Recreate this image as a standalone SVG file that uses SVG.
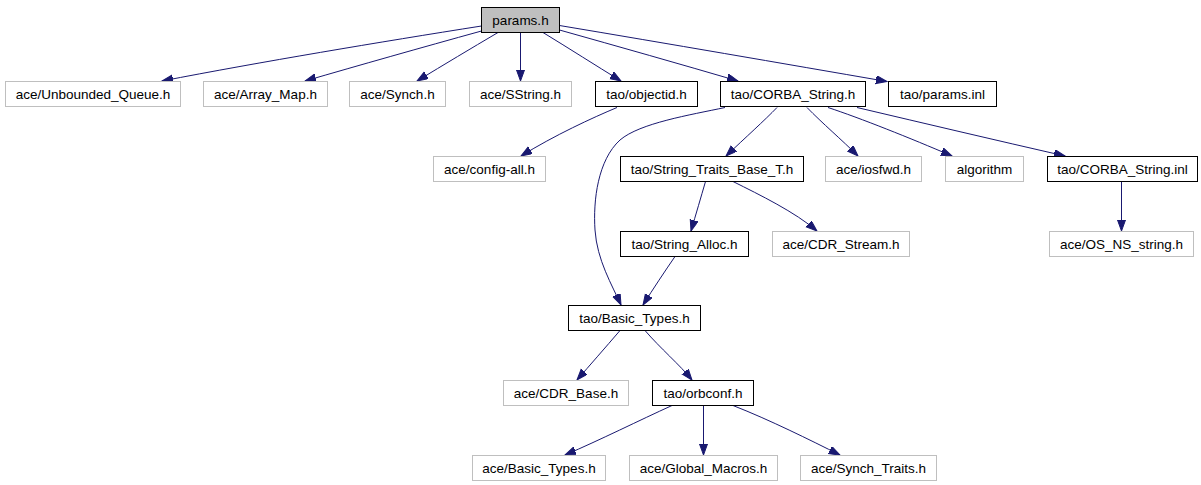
<svg xmlns="http://www.w3.org/2000/svg" width="1201" height="485" viewBox="0 0 1201 485">
<style>
.n rect{fill:#ffffff;stroke:#000000;stroke-width:1}
.g rect{stroke:#bfbfbf}
.r rect{fill:#bfbfbf}
text{font-family:"Liberation Sans",Arial,sans-serif;font-size:13.5px;fill:#000000;text-anchor:middle}
#edges path{fill:none;stroke:#191970;stroke-width:1;marker-end:url(#ah)}
</style>
<defs>
<marker id="ah" markerUnits="userSpaceOnUse" markerWidth="12" markerHeight="9" refX="11" refY="4" orient="auto">
<path d="M0,0 L11,4 L0,8 z" fill="#191970" stroke="#191970" stroke-width="1"/>
</marker>
</defs>
<rect x="0" y="0" width="1201" height="485" fill="#ffffff"/>
<g id="edges">
<path d="M481.5,26 C380,42 260,62 162,81"/>
<path d="M481.5,31 C420,48 360,65 305,81"/>
<path d="M498,32.5 C470,49 445,64 417,81"/>
<path d="M520.5,32.5 L520.5,81"/>
<path d="M543,32.5 C570,49 595,65 621,81"/>
<path d="M559.5,30 C620,47 680,64 738,81"/>
<path d="M559.5,25.5 C670,44 780,63 887,81.5"/>
<path d="M617,107.5 C592,118 555,135 521,156"/>
<path d="M725,107.5 C690,115 640,123 620,140 C598,160 593,200 595,230 C597,260 612,285 621,305"/>
<path d="M777,107.5 C765,120 745,138 726,156"/>
<path d="M807,107.5 C822,123 842,140 858,156"/>
<path d="M828,107.5 C860,118 910,138 952,156"/>
<path d="M857,107.5 C927,124 995,140 1065,156"/>
<path d="M705.5,181.5 C701,197 696,214 691,231"/>
<path d="M733,181.5 C760,195 795,212 817,231"/>
<path d="M1121.5,181.5 L1121.5,231"/>
<path d="M675,256.5 C665,271 653,289 643,305"/>
<path d="M620,330.5 C605,348 590,365 577,380"/>
<path d="M645,330.5 C660,348 680,365 692,380"/>
<path d="M672,405.5 C640,420 600,440 565,455"/>
<path d="M703.5,405.5 L703.5,455"/>
<path d="M733,405.5 C770,420 810,440 840,455"/>
</g>
<g id="params_h" class="n r"><rect x="481.5" y="7.5" width="78" height="25"/><text x="520.5" y="24.5">params.h</text></g>
<g id="ace_Unbounded_Queue_h" class="n g"><rect x="5.5" y="81.5" width="175" height="25"/><text x="93" y="98.5">ace/Unbounded_Queue.h</text></g>
<g id="ace_Array_Map_h" class="n g"><rect x="203.5" y="81.5" width="124" height="25"/><text x="265.5" y="98.5">ace/Array_Map.h</text></g>
<g id="ace_Synch_h" class="n g"><rect x="349.5" y="81.5" width="96" height="25"/><text x="397.5" y="98.5">ace/Synch.h</text></g>
<g id="ace_SString_h" class="n g"><rect x="469.5" y="81.5" width="102" height="25"/><text x="520.5" y="98.5">ace/SString.h</text></g>
<g id="tao_objectid_h" class="n"><rect x="595.5" y="81.5" width="102" height="25"/><text x="646.5" y="98.5">tao/objectid.h</text></g>
<g id="tao_CORBA_String_h" class="n"><rect x="720.5" y="81.5" width="145" height="25"/><text x="793" y="98.5">tao/CORBA_String.h</text></g>
<g id="tao_params_inl" class="n"><rect x="888.5" y="81.5" width="108" height="25"/><text x="942.5" y="98.5">tao/params.inl</text></g>
<g id="ace_config_all_h" class="n g"><rect x="433.5" y="156.5" width="112" height="25"/><text x="489.5" y="173.5">ace/config-all.h</text></g>
<g id="tao_String_Traits_Base_T_h" class="n"><rect x="620.5" y="156.5" width="183" height="25"/><text x="712" y="173.5">tao/String_Traits_Base_T.h</text></g>
<g id="ace_iosfwd_h" class="n g"><rect x="825.5" y="156.5" width="96" height="25"/><text x="873.5" y="173.5">ace/iosfwd.h</text></g>
<g id="algorithm" class="n g"><rect x="945.5" y="156.5" width="78" height="25"/><text x="984.5" y="173.5">algorithm</text></g>
<g id="tao_CORBA_String_inl" class="n"><rect x="1047.5" y="156.5" width="150" height="25"/><text x="1122.5" y="173.5">tao/CORBA_String.inl</text></g>
<g id="tao_String_Alloc_h" class="n"><rect x="620.5" y="231.5" width="128" height="25"/><text x="684.5" y="248.5">tao/String_Alloc.h</text></g>
<g id="ace_CDR_Stream_h" class="n g"><rect x="772.5" y="231.5" width="137" height="25"/><text x="841" y="248.5">ace/CDR_Stream.h</text></g>
<g id="ace_OS_NS_string_h" class="n g"><rect x="1049.5" y="231.5" width="144" height="25"/><text x="1121.5" y="248.5">ace/OS_NS_string.h</text></g>
<g id="tao_Basic_Types_h" class="n"><rect x="568.5" y="305.5" width="132" height="25"/><text x="634.5" y="322.5">tao/Basic_Types.h</text></g>
<g id="ace_CDR_Base_h" class="n g"><rect x="503.5" y="380.5" width="125" height="25"/><text x="566" y="397.5">ace/CDR_Base.h</text></g>
<g id="tao_orbconf_h" class="n"><rect x="652.5" y="380.5" width="101" height="25"/><text x="703" y="397.5">tao/orbconf.h</text></g>
<g id="ace_Basic_Types_h" class="n g"><rect x="472.5" y="455.5" width="133" height="25"/><text x="539" y="472.5">ace/Basic_Types.h</text></g>
<g id="ace_Global_Macros_h" class="n g"><rect x="629.5" y="455.5" width="148" height="25"/><text x="703.5" y="472.5">ace/Global_Macros.h</text></g>
<g id="ace_Synch_Traits_h" class="n g"><rect x="800.5" y="455.5" width="136" height="25"/><text x="868.5" y="472.5">ace/Synch_Traits.h</text></g>
</svg>
